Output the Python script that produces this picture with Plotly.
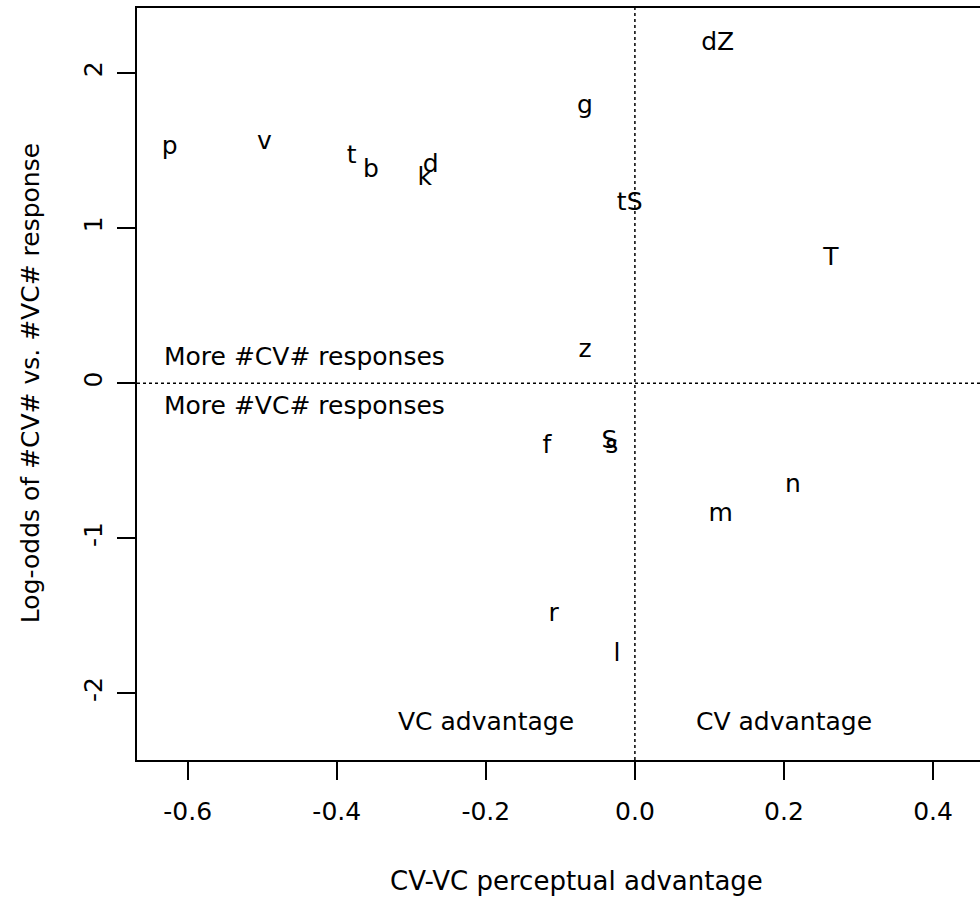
import plotly.graph_objects as go

labels = ["p", "v", "t", "b", "k", "d", "g", "dZ", "tS", "T", "z", "f", "s", "S", "n", "m", "r", "l"]
x_adv = [-0.624, -0.497, -0.380, -0.354, -0.282, -0.274, -0.067, 0.111, -0.007, 0.263,
         -0.067, -0.118, -0.031, -0.034, 0.212, 0.115, -0.109, -0.024]
y_logodds = [1.52, 1.55, 1.46, 1.37, 1.32, 1.40, 1.78, 2.19, 1.16, 0.80,
             0.21, -0.41, -0.41, -0.38, -0.66, -0.85, -1.49, -1.75]

x_ticks = [-0.6, -0.4, -0.2, 0.0, 0.2, 0.4]
x_ticklabels = ["-0.6", "-0.4", "-0.2", "0.0", "0.2", "0.4"]
y_ticks = [-2, -1, 0, 1, 2]
y_ticklabels = ["-2", "-1", "0", "1", "2"]

FONT = "DejaVu Sans, Liberation Sans, Arial, sans-serif"

fig = go.Figure()
fig.add_trace(go.Scatter(
    x=x_adv, y=y_logodds, text=labels, mode="text",
    textposition="middle center",
    textfont=dict(family=FONT, size=25, color="black"),
    hoverinfo="skip", showlegend=False,
))

# reference lines
fig.add_shape(type="line", xref="x", yref="paper", x0=0, x1=0, y0=0, y1=1,
              line=dict(color="black", width=1.5, dash="dot"))
fig.add_shape(type="line", xref="paper", yref="y", x0=0, x1=1, y0=0, y1=0,
              line=dict(color="black", width=1.5, dash="dot"))

ann_font = dict(family=FONT, size=25, color="black")
fig.add_annotation(x=-0.634, y=0.174, xref="x", yref="y", text="More #CV# responses",
                   showarrow=False, xanchor="left", yanchor="middle", font=ann_font)
fig.add_annotation(x=-0.634, y=-0.142, xref="x", yref="y", text="More #VC# responses",
                   showarrow=False, xanchor="left", yanchor="middle", font=ann_font)
fig.add_annotation(x=-0.2, y=-2.18, xref="x", yref="y", text="VC advantage",
                   showarrow=False, xanchor="center", yanchor="middle", font=ann_font)
fig.add_annotation(x=0.2, y=-2.18, xref="x", yref="y", text="CV advantage",
                   showarrow=False, xanchor="center", yanchor="middle", font=ann_font)

# axis titles
fig.add_annotation(x=-0.078, y=-0.161, xref="x", yref="paper", text="CV-VC perceptual advantage",
                   showarrow=False, xanchor="center", yanchor="middle",
                   font=dict(family=FONT, size=26, color="black"))
fig.add_annotation(x=-0.127, y=0, xref="paper", yref="y", text="Log-odds of #CV# vs. #VC# response",
                   showarrow=False, xanchor="center", yanchor="middle", textangle=-90, font=ann_font)

fig.update_xaxes(range=[-0.668, 0.463], tickvals=x_ticks, ticktext=x_ticklabels,
                 showline=True, mirror=True, linecolor="black", linewidth=1.5,
                 ticks="outside", ticklen=18, tickwidth=1.5, tickcolor="black",
                 ticklabelstandoff=10,
                 showgrid=False, zeroline=False,
                 tickfont=dict(family=FONT, size=25, color="black"))
fig.update_yaxes(range=[-2.43, 2.42], tickvals=y_ticks, ticktext=y_ticklabels,
                 showline=True, mirror=False, linecolor="black", linewidth=1.5,
                 ticks="outside", ticklen=18, tickwidth=1.5, tickcolor="black",
                 tickangle=-90, ticklabelstandoff=5,
                 showgrid=False, zeroline=False,
                 tickfont=dict(family=FONT, size=25, color="black"))

fig.update_layout(width=980, height=897, margin=dict(l=137, r=0, t=8, b=137),
                  plot_bgcolor="white", paper_bgcolor="white")

# remove the default page margin so the figure starts at the window corner
fig.write_html("out.html",
               config={"displayModeBar": False},
               post_script="document.body.style.margin='0';document.body.style.overflow='hidden';")
